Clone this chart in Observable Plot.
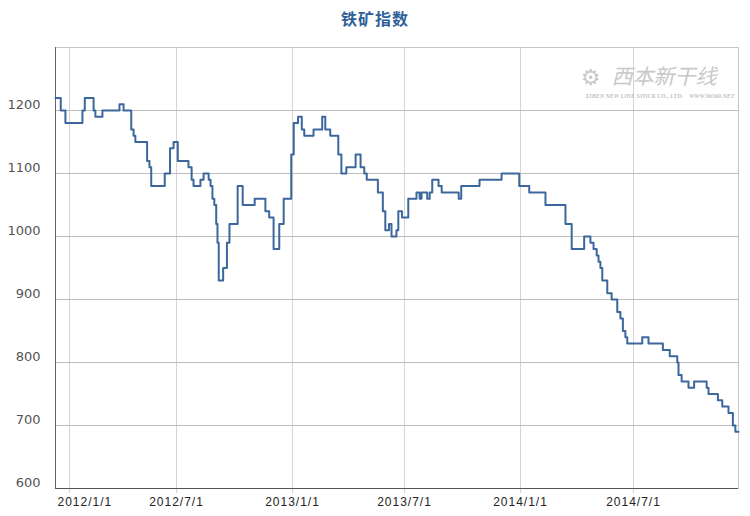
<!DOCTYPE html>
<html>
<head>
<meta charset="utf-8">
<script src="https://cdn.jsdelivr.net/npm/d3@7"></script>
<script src="https://cdn.jsdelivr.net/npm/@observablehq/plot@0.6"></script>
<style>
  html, body { margin: 0; padding: 0; background: #fff; }
  #title { height: 30px; line-height: 36px; text-align: center; font-family: "Noto Sans CJK SC", sans-serif; font-weight: bold; font-size: 16px; color: #30609a; letter-spacing: 1px; }
</style>
</head>
<body>
<div id="title">铁矿指数</div>
<div id="chart"></div>
<script>
// Data (step changes of the index)
const dates = [
  "2011-12-08","2011-12-17","2011-12-25","2012-01-23","2012-01-27","2012-02-11","2012-02-14","2012-02-26",
  "2012-03-26","2012-04-02","2012-04-15","2012-04-19","2012-04-22","2012-05-12","2012-05-16","2012-05-19",
  "2012-06-11","2012-06-20","2012-06-26","2012-07-03","2012-07-20","2012-07-25","2012-07-28","2012-08-08",
  "2012-08-13","2012-08-21","2012-08-24","2012-08-27","2012-08-30","2012-09-02","2012-09-04","2012-09-06",
  "2012-09-13","2012-09-19","2012-09-23","2012-10-06","2012-10-14","2012-11-02","2012-11-19","2012-11-25",
  "2012-12-02","2012-12-11","2012-12-18","2012-12-30","2013-01-03","2013-01-10","2013-01-16","2013-01-20",
  "2013-02-04","2013-02-18","2013-02-23","2013-03-03","2013-03-16","2013-03-21","2013-03-29","2013-04-13",
  "2013-04-21","2013-04-27","2013-05-01","2013-05-19","2013-05-27","2013-05-31","2013-06-06","2013-06-10",
  "2013-06-18","2013-06-21","2013-06-27","2013-07-07","2013-07-20","2013-07-25","2013-07-28","2013-08-06",
  "2013-08-10","2013-08-14","2013-08-24","2013-08-29","2013-09-25","2013-09-29","2013-10-28","2013-12-02",
  "2013-12-30","2014-01-15","2014-02-10","2014-03-14","2014-03-24","2014-04-13","2014-04-23","2014-04-28",
  "2014-05-03","2014-05-06","2014-05-09","2014-05-12","2014-05-20","2014-05-27","2014-06-05","2014-06-10",
  "2014-06-14","2014-06-18","2014-06-21","2014-07-15","2014-07-25","2014-08-17","2014-08-28","2014-09-09",
  "2014-09-11","2014-09-16","2014-09-27","2014-10-06","2014-10-26","2014-10-29","2014-11-13","2014-11-20",
  "2014-11-30","2014-12-07","2014-12-11","2014-12-16"
];
const values = [
  1220,1200,1180,1200,1220,1200,1190,1200,
  1210,1200,1170,1160,1150,1120,1110,1080,
  1100,1140,1150,1120,1110,1090,1080,1090,
  1100,1090,1080,1060,1050,1020,990,930,
  950,990,1020,1080,1050,1060,1040,1030,
  980,1020,1060,1130,1180,1190,1170,1160,
  1170,1190,1170,1160,1130,1100,1110,1130,
  1110,1100,1090,1070,1040,1010,1020,1000,
  1010,1040,1030,1060,1070,1060,1070,1060,
  1070,1090,1080,1070,1060,1080,1090,1100,
  1080,1070,1050,1020,980,1000,990,980,
  970,960,950,930,910,900,880,870,
  850,840,830,840,830,820,810,800,
  780,770,760,770,760,750,740,730,
  720,700,690,690
];
const xTicks = ["2012-01-01","2012-07-01","2013-01-01","2013-07-01","2014-01-01","2014-07-01"];
const xTickLabels = ["2012/1/1","2012/7/1","2013/1/1","2013/7/1","2014/1/1","2014/7/1"];
const yTicks = [600, 700, 800, 900, 1000, 1100, 1200];
const yGrid = [700, 800, 900, 1000, 1100, 1200];

const data = dates.map((d, i) => ({date: new Date(d), value: values[i]}));
const xt = xTicks.map(d => new Date(d));
const labelOf = new Map(xt.map((d, i) => [+d, xTickLabels[i]]));

const xDomain = [new Date("2011-12-08"), ...xt, new Date("2014-12-16")];
const xRange = [55, 69, 176, 292, 404, 520, 633, 738];

const chart = Plot.plot({
  width: 750,
  height: 486,
  marginLeft: 55,
  marginRight: 12,
  marginTop: 17,
  marginBottom: 28,
  style: {background: "#fff", fontFamily: "DejaVu Sans, sans-serif"},
  x: {type: "utc", domain: xDomain, range: xRange, axis: null},
  y: {domain: [600, 1300], axis: null},
  marks: [
    Plot.frame({stroke: "#c4c4c4"}),
    Plot.ruleX(xt, {stroke: "#d4d4d4", insetBottom: -5}),
    Plot.ruleY(yGrid, {stroke: "#bdbdbd"}),
    Plot.text(["西本新干线"], {frameAnchor: "top-right", dx: -22, dy: 22, textAnchor: "end", fontSize: 21, fontStyle: "italic", fill: "#c8c8c8", fontFamily: "Noto Sans CJK SC"}),
    Plot.text(["XIBEN NEW LINE STOCK CO., LTD.    WWW.96369.NET"], {frameAnchor: "top-right", dx: -4, dy: 46, textAnchor: "end", fontSize: 6, fontWeight: "bold", fontStyle: "italic", fill: "#c0c0c0", fontFamily: "Liberation Serif"}),
    Plot.text(["⚙"], {frameAnchor: "top-right", dx: -148, dy: 22, textAnchor: "middle", fontSize: 22, fill: "#c8c8c8"}),
    Plot.ruleX([xDomain[0]], {stroke: "#666"}),
    Plot.ruleY([600], {stroke: "#555"}),
    Plot.line(data, {x: "date", y: "value", curve: "step-after", stroke: "#3b679c", strokeWidth: 2}),
    Plot.axisY({ticks: yTicks, tickSize: 0, tickPadding: 15, dy: -6, fontSize: 13, fill: "#555", label: null, tickFormat: d => String(d)}),
    Plot.text(xt.slice(0, 1), {x: d => d, frameAnchor: "bottom", dy: 17, dx: -12, textAnchor: "start", text: d => labelOf.get(+d), fontSize: 12, fill: "#222", fontFamily: "Liberation Sans"}),
    Plot.text(xt.slice(1), {x: d => d, frameAnchor: "bottom", dy: 17, textAnchor: "middle", text: d => labelOf.get(+d), fontSize: 12, fill: "#222", fontFamily: "Liberation Sans"})
  ]
});
chart.querySelectorAll("text").forEach(t => {
  if (/\d{4}\/\d/.test(t.textContent)) t.setAttribute("letter-spacing", "1");
});
document.getElementById("chart").appendChild(chart);
</script>
</body>
</html>
